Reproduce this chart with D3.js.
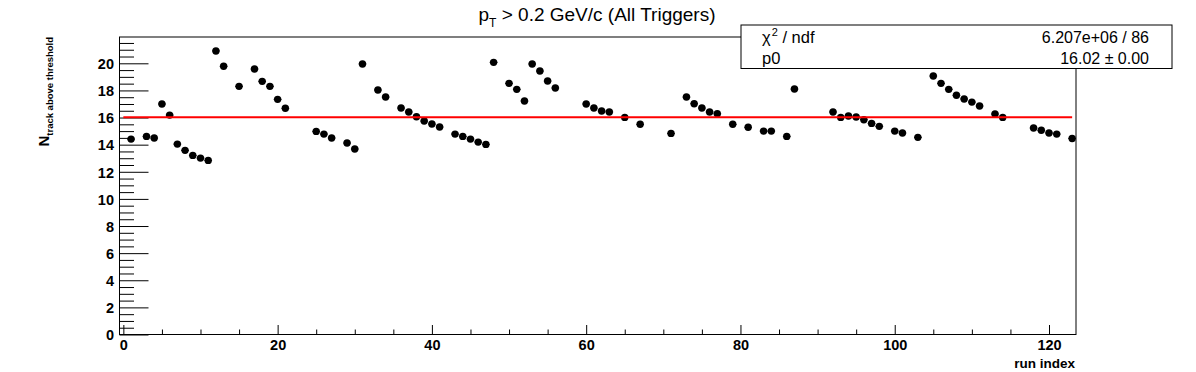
<!DOCTYPE html>
<html>
<head>
<meta charset="utf-8">
<script src="https://cdn.jsdelivr.net/npm/d3@7"></script>
<style>
  body { margin: 0; background: #fff; }
  text { font-family: "Liberation Sans", Arial, Helvetica, sans-serif; }
</style>
</head>
<body>
<svg class="vis-runqa"></svg>
<script>
// run index of every filled bin
const runIndex = [1, 3, 4, 5, 6, 7, 8, 9, 10, 11, 12, 13, 15, 17, 18, 19, 20, 21,
    25, 26, 27, 29, 30, 31, 33, 34, 36, 37, 38, 39, 40, 41,
    43, 44, 45, 46, 47, 48, 50, 51, 52, 53, 54, 55, 56,
    60, 61, 62, 63, 65, 67, 71, 73, 74, 75, 76, 77,
    79, 81, 83, 84, 86, 87, 92, 93, 94, 95, 96, 97, 98,
    100, 101, 103, 105, 106, 107, 108, 109, 110, 111,
    113, 114, 118, 119, 120, 121, 123]

// mean number of tracks above threshold per run
const nTrack = [14.41, 14.61, 14.49, 17.0, 16.18, 14.04, 13.58, 13.21, 13.01, 12.84, 20.91, 19.78, 18.30, 19.58, 18.67, 18.30, 17.34, 16.68,
    14.98, 14.78, 14.49, 14.12, 13.68, 19.95, 18.03, 17.51, 16.70, 16.41, 16.06, 15.74, 15.52, 15.30,
    14.78, 14.61, 14.41, 14.19, 14.02, 20.07, 18.52, 18.08, 17.22, 19.95, 19.43, 18.69, 18.18,
    17.0, 16.70, 16.48, 16.41, 16.01, 15.50, 14.83, 17.51, 17.02, 16.70, 16.41, 16.28,
    15.50, 15.28, 15.0, 15.0, 14.61, 18.10, 16.41, 16.01, 16.11, 16.04, 15.84, 15.57, 15.35,
    15.0, 14.86, 14.54, 19.06, 18.52, 18.08, 17.64, 17.37, 17.14, 16.85,
    16.26, 16.01, 15.23, 15.06, 14.86, 14.78, 14.46]

// constant fit (pol0)
const fitP0 = 16.02
const fitRange = [0, 123]
const statLabels = ["χ2 / ndf", "p0"]
const statValues = ["6.207e+06 / 86", "16.02 ± 0.00"]

const xTicks = [0, 20, 40, 60, 80, 100, 120]
const yTicks = [0, 2, 4, 6, 8, 10, 12, 14, 16, 18, 20]

const W = 1196, H = 372
const margin = {top: 37, right: 120, bottom: 38, left: 119.5}
const width = 1076 - margin.left
const height = 334.5 - margin.top

const svg = d3.select(".vis-runqa")
    .attr("width", W)
    .attr("height", H)

const g = svg.append("g")
    .attr("transform", `translate(${margin.left},${margin.top})`)

const x = d3.scaleLinear()
    .domain([-0.5, 123.5])
    .range([0, width])

const y = d3.scaleLinear()
    .domain([0, 21.94])
    .range([height, 0])

// x axis: major every 20, minor every 5
const xAxis = g.append("g")
    .attr("class", "xaxis")
    .attr("transform", `translate(0,${height})`)
xAxis.call(d3.axisBottom(x).tickValues(d3.range(0, 124, 5)).tickSize(0).tickFormat(""))
xAxis.selectAll(".tick line")
    .attr("y2", d => d % 20 === 0 ? -9.5 : -5)
    .attr("stroke", "#000")
xAxis.selectAll(".tick").filter(d => xTicks.includes(d)).append("text")
    .attr("y", 15.5)
    .attr("text-anchor", "middle")
    .attr("font-size", 14.5)
    .attr("font-weight", "bold")
    .attr("fill", "#000")
    .text(d => d)
xAxis.select(".domain").remove()

// y axis: major every 2, minor every 0.5
const yAxis = g.append("g").attr("class", "yaxis")
yAxis.call(d3.axisLeft(y).tickValues(d3.range(0, 21.9, 0.5)).tickSize(0).tickFormat(""))
yAxis.selectAll(".tick line")
    .attr("x2", d => Math.abs(d % 2) < 1e-9 ? 29 : 14.5)
    .attr("stroke", "#000")
yAxis.selectAll(".tick").filter(d => yTicks.includes(d)).append("text")
    .attr("x", -5.5)
    .attr("dy", "0.36em")
    .attr("text-anchor", "end")
    .attr("font-size", 14.5)
    .attr("font-weight", "bold")
    .attr("fill", "#000")
    .text(d => d)
yAxis.select(".domain").remove()

// frame
g.append("rect")
    .attr("width", width)
    .attr("height", height)
    .attr("fill", "none")
    .attr("stroke", "#000")
    .attr("stroke-width", 1)

// data points with horizontal bin error bars
const pts = runIndex.map((r, i) => ({r: r, v: nTrack[i]}))
g.append("g").selectAll("line")
    .data(pts)
    .join("line")
    .attr("x1", d => x(d.r - 0.5))
    .attr("x2", d => x(d.r + 0.5))
    .attr("y1", d => y(d.v))
    .attr("y2", d => y(d.v))
    .attr("stroke", "#000")
    .attr("stroke-width", 1)
g.append("g").selectAll("circle")
    .data(pts)
    .join("circle")
    .attr("cx", d => x(d.r))
    .attr("cy", d => y(d.v))
    .attr("r", 3.7)
    .attr("fill", "#000")

// fit line
g.append("line")
    .attr("x1", x(fitRange[0]))
    .attr("x2", x(fitRange[1]))
    .attr("y1", y(fitP0))
    .attr("y2", y(fitP0))
    .attr("stroke", "#ff0000")
    .attr("stroke-width", 2)

// title
const title = svg.append("text")
    .attr("x", 597)
    .attr("y", 21)
    .attr("text-anchor", "middle")
    .attr("font-size", 19)
    .attr("fill", "#000")
title.append("tspan").text("p")
title.append("tspan").attr("font-size", 12).attr("dy", 6).text("T")
title.append("tspan").attr("dy", -6).text(" > 0.2 GeV/c (All Triggers)")

// axis titles
svg.append("text")
    .attr("x", 1075)
    .attr("y", 368)
    .attr("text-anchor", "end")
    .attr("font-size", 13.5)
    .attr("font-weight", "bold")
    .text("run index")

const yt = svg.append("text")
    .attr("transform", "translate(48.5,37) rotate(-90)")
    .attr("text-anchor", "end")
    .attr("font-weight", "bold")
    .attr("font-size", 15)
yt.append("tspan").text("N")
yt.append("tspan").attr("font-size", 9.5).attr("dy", 4).text("track above threshold")

// stat box
const box = svg.append("g").attr("transform", "translate(741,25)")
box.append("rect")
    .attr("width", 431)
    .attr("height", 43.5)
    .attr("fill", "#fff")
    .attr("stroke", "#000")
    .attr("stroke-width", 1)
const rowY = [18, 38.5]
const l1 = box.append("text").attr("x", 21).attr("y", rowY[0]).attr("font-size", 16.5)
l1.append("tspan").text("χ")
l1.append("tspan").attr("font-size", 11).attr("dy", -7).attr("dx", 1).text("2")
l1.append("tspan").attr("dy", 7).text(" / ndf")
box.append("text").attr("x", 21).attr("y", rowY[1]).attr("font-size", 16.5).text(statLabels[1])
box.selectAll("text.val")
    .data(statValues)
    .join("text")
    .attr("class", "val")
    .attr("x", 408)
    .attr("y", (d, i) => rowY[i])
    .attr("text-anchor", "end")
    .attr("font-size", 16)
    .text(d => d)
</script>
</body>
</html>
